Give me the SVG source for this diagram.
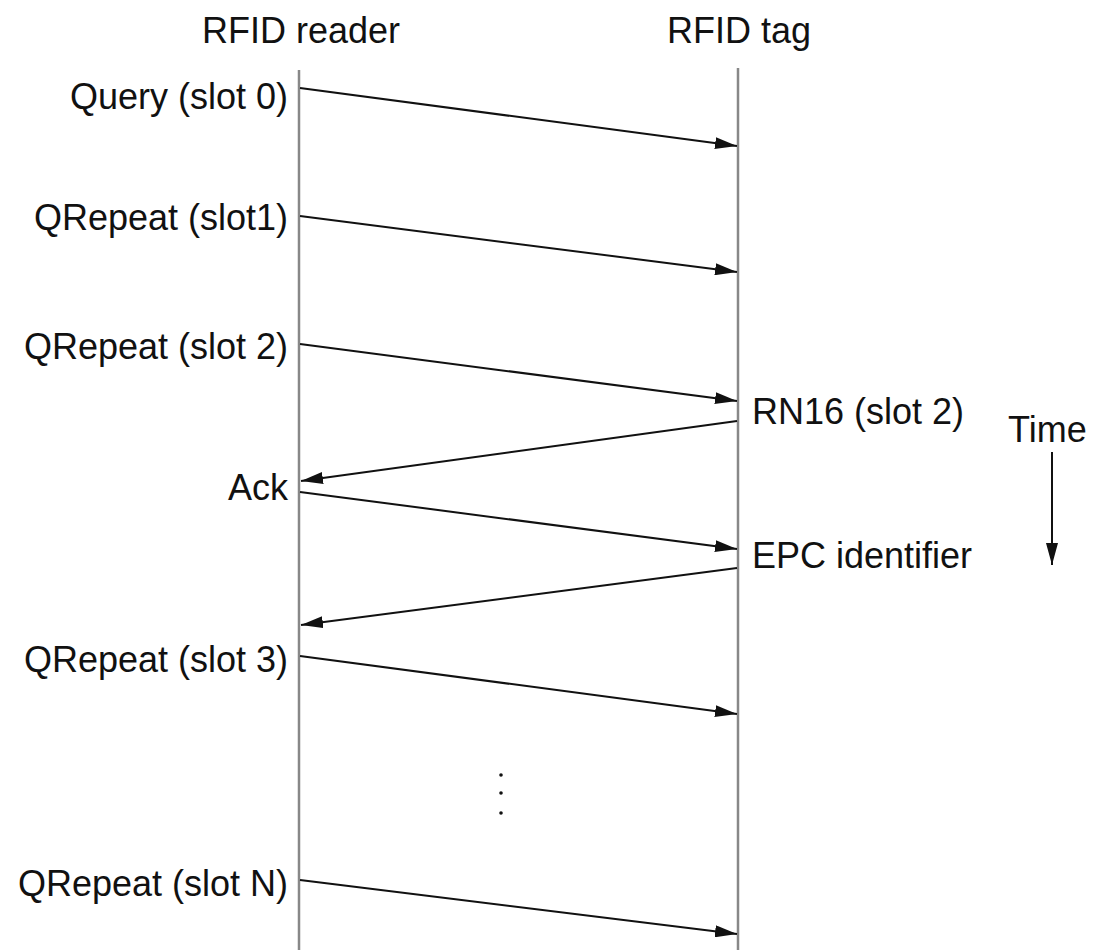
<svg xmlns="http://www.w3.org/2000/svg" width="1097" height="950" viewBox="0 0 1097 950">
<style>
text{font-family:"Liberation Sans",Arial,sans-serif;font-size:36px;fill:#111}
.l{text-anchor:end}
.c{text-anchor:middle}
.life{stroke:#888;stroke-width:2.5;fill:none}
.msg{stroke:#111;stroke-width:2;fill:none;marker-end:url(#ah)}
</style>
<defs>
<marker id="ah" viewBox="0 0 22 12" refX="22" refY="6" markerWidth="22" markerHeight="12" markerUnits="userSpaceOnUse" orient="auto">
<path d="M0,0 L22,6 L0,12 Z" fill="#111"/>
</marker>
</defs>
<rect width="1097" height="950" fill="#fff"/>
<g id="reader">
<text class="c" x="301" y="43">RFID reader</text>
<line class="life" x1="299" y1="70" x2="299" y2="950"/>
</g>
<g id="tag">
<text class="c" x="739" y="43">RFID tag</text>
<line class="life" x1="738" y1="68" x2="738" y2="950"/>
</g>
<g id="labels">
<text class="l" x="288" y="109">Query (slot 0)</text>
<text class="l" x="288" y="230">QRepeat (slot1)</text>
<text class="l" x="288" y="359">QRepeat (slot 2)</text>
<text x="752" y="424">RN16 (slot 2)</text>
<text class="l" x="288" y="500">Ack</text>
<text x="752" y="568">EPC identifier</text>
<text class="l" x="288" y="672">QRepeat (slot 3)</text>
<text class="l" x="288" y="896">QRepeat (slot N)</text>
</g>
<g id="time">
<text x="1008" y="442">Time</text>
<line x1="1052" y1="452" x2="1052" y2="565" stroke="#111" stroke-width="2" marker-end="url(#ah)"/>
</g>
<g id="ellipsis" fill="#111">
<circle cx="501" cy="775" r="1.8"/>
<circle cx="501" cy="793" r="1.8"/>
<circle cx="501" cy="813" r="1.8"/>
</g>
<g id="connectors">
<line class="msg" x1="300" y1="88" x2="737" y2="146"/>
<line class="msg" x1="300" y1="216" x2="737" y2="272"/>
<line class="msg" x1="300" y1="344" x2="737" y2="401"/>
<line class="msg" x1="737" y1="421" x2="301" y2="481"/>
<line class="msg" x1="300" y1="492" x2="737" y2="549"/>
<line class="msg" x1="737" y1="568" x2="301" y2="625"/>
<line class="msg" x1="300" y1="656" x2="737" y2="714"/>
<line class="msg" x1="300" y1="880" x2="737" y2="934"/>
</g>
</svg>
